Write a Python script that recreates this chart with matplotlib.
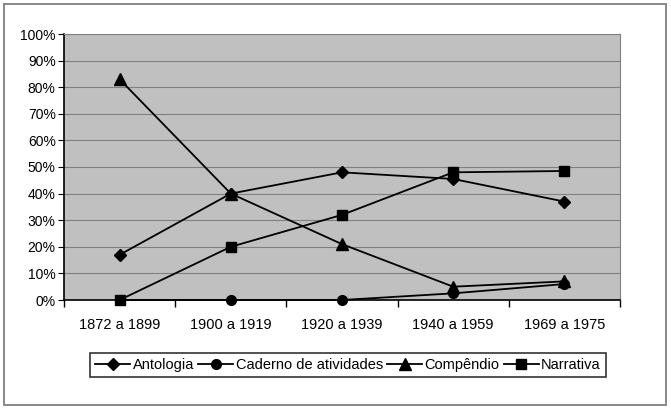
import matplotlib
matplotlib.use("Agg")
import matplotlib.pyplot as plt
from matplotlib.patches import Rectangle
from matplotlib.ticker import FuncFormatter

plt.rcParams['font.family'] = ['Liberation Sans', 'DejaVu Sans']

# --- dados ---
periodos = ["1872 a 1899", "1900 a 1919", "1920 a 1939", "1940 a 1959", "1969 a 1975"]
antologia = [17, 40, 48, 45.5, 37]
caderno = [0, 0, 0, 2.5, 6]
compendio = [83, 40, 21, 5, 7]
narrativa = [0, 20, 32, 48, 48.5]

fig = plt.figure(figsize=(6.71, 4.09), dpi=100)
ax = fig.add_axes([64 / 671, 1 - 300 / 409, (620 - 64) / 671, (300 - 34) / 409])

# moldura externa
fig.patches.append(Rectangle((4 / 671, 4 / 409), 662 / 671, 401 / 409,
                             transform=fig.transFigure, fill=False,
                             edgecolor="#888888", linewidth=1.4))

ax.set_facecolor("#c0c0c0")
x = range(len(periodos))
lw = 1.3
ax.plot(x, antologia, color="black", lw=lw, marker="D", ms=6, label="Antologia", clip_on=False, zorder=3)
ax.plot(x, caderno, color="black", lw=lw, marker="o", ms=7, label="Caderno de atividades", clip_on=False, zorder=3)
ax.plot(x, compendio, color="black", lw=lw, marker="^", ms=8, label="Compêndio", clip_on=False, zorder=3)
ax.plot(x, narrativa, color="black", lw=lw, marker="s", ms=7.5, label="Narrativa", clip_on=False, zorder=3)

ax.set_xlim(-0.5, len(periodos) - 0.5)
ax.set_ylim(0, 100)
ax.set_yticks(range(0, 101, 10))
ax.yaxis.set_major_formatter(FuncFormatter(lambda v, p: f"{int(v)}%"))
ax.yaxis.grid(True, color="#808080", lw=0.8)
ax.set_axisbelow(True)

ax.set_xticks([i + 0.5 for i in range(-1, len(periodos))])
ax.set_xticklabels([])
ax.set_xticks(list(x), minor=True)
ax.set_xticklabels(periodos, minor=True)
ax.tick_params(axis="x", which="major", length=5, width=1, direction="out", color="black")
ax.tick_params(axis="x", which="minor", length=0, pad=13, labelsize=10.5)
ax.tick_params(axis="y", length=4, labelsize=10, pad=2)

for s in ["top", "right"]:
    ax.spines[s].set_color("#808080")
    ax.spines[s].set_linewidth(0.8)
ax.spines["left"].set_color("black")
ax.spines["bottom"].set_color("black")
ax.spines["left"].set_linewidth(1.2)
ax.spines["bottom"].set_linewidth(1.2)

leg = fig.legend(loc="center", bbox_to_anchor=(348 / 671, 1 - 365 / 409), ncol=4,
                 fontsize=10.5, frameon=True, fancybox=False, edgecolor="black",
                 handlelength=2.4, handletextpad=0.15, columnspacing=0.3,
                 borderpad=0.35, borderaxespad=0)
leg.get_frame().set_linewidth(1.2)

fig.savefig("out.png", dpi=100)
